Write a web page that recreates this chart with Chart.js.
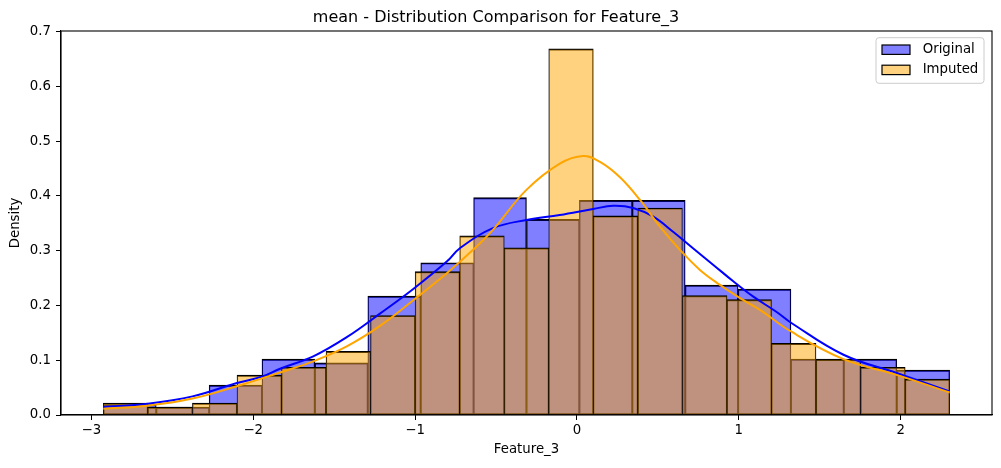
<!DOCTYPE html>
<html>
<head>
<meta charset="utf-8">
<script src="https://cdn.jsdelivr.net/npm/chart.js@4.4.1/dist/chart.umd.min.js"></script>
<style>
  html, body { margin: 0; padding: 0; background: #ffffff; }
  #wrap { width: 1001px; height: 468px; }
</style>
</head>
<body>
<div id="wrap"><canvas id="chart" width="1001" height="468"></canvas></div>
<script>
// ---------- data ----------
const seriesLabels = ['Original', 'Imputed'];

// histogram bin edges (Feature_3 units)
const originalEdges = [-2.926, -2.599, -2.272, -1.946, -1.619, -1.292, -0.965, -0.638, -0.312,
                       0.015, 0.342, 0.669, 0.996, 1.322, 1.649, 1.976, 2.303];
const originalDensity = [0.019, 0.0145, 0.0545, 0.102, 0.0953, 0.217, 0.278, 0.397, 0.357,
                         0.392, 0.392, 0.237, 0.230, 0.102, 0.102, 0.082];

const imputedEdges = [-2.926, -2.651, -2.376, -2.100, -1.825, -1.550, -1.275, -1.000, -0.724, -0.449,
                      -0.174, 0.101, 0.376, 0.652, 0.927, 1.202, 1.477, 1.753, 2.028, 2.303];
const imputedDensity = [0.0218, 0.0145, 0.0218, 0.0727, 0.0872, 0.1163, 0.1817, 0.2616, 0.3270, 0.3052,
                        0.6686, 0.3634, 0.3779, 0.2180, 0.2107, 0.1308, 0.1017, 0.0872, 0.0654];

// KDE curves
const originalKdeX = [-2.926, -2.653, -2.375, -2.106, -1.946, -1.834, -1.629, -1.422, -1.217, -1.011,
                      -0.804, -0.725, -0.519, -0.312, -0.106, 0.100, 0.225, 0.348, 0.472, 0.596,
                      0.719, 0.843, 0.966, 1.090, 1.234, 1.325, 1.647, 1.975, 2.303];
const originalKdeY = [0.0146, 0.0206, 0.034, 0.058, 0.070, 0.0845, 0.107, 0.142, 0.185, 0.230,
                      0.280, 0.304, 0.341, 0.356, 0.365, 0.376, 0.382, 0.378, 0.362, 0.334,
                      0.304, 0.274, 0.244, 0.216, 0.188, 0.168, 0.110, 0.0766, 0.043];
const imputedKdeX = [-2.926, -2.653, -2.375, -2.106, -1.834, -1.629, -1.422, -1.217, -1.011, -0.804,
                     -0.640, -0.519, -0.312, -0.106, 0.038, 0.143, 0.266, 0.390, 0.513, 0.637,
                     0.760, 0.884, 1.008, 1.131, 1.325, 1.647, 1.975, 2.303];
const imputedKdeY = [0.0115, 0.017, 0.030, 0.052, 0.0777, 0.0979, 0.1252, 0.1626, 0.2096, 0.2588,
                     0.302, 0.338, 0.411, 0.459, 0.473, 0.462, 0.434, 0.3925, 0.3438, 0.3013,
                     0.2649, 0.2375, 0.2132, 0.192, 0.152, 0.102, 0.0732, 0.0412];

const xTicks = [-3, -2, -1, 0, 1, 2];
const yTicks = [0.0, 0.1, 0.2, 0.3, 0.4, 0.5, 0.6, 0.7];
const xRange = [-3.1875, 2.5645];
const yRange = [0, 0.701];

const titleText = 'mean - Distribution Comparison for Feature_3';
const xLabel = 'Feature_3';
const yLabel = 'Density';

// ---------- build datasets ----------
function histPoints(edges, dens) {
  return dens.map((d, i) => ({ x: (edges[i] + edges[i + 1]) / 2, y: d }));
}
function curvePoints(xs, ys) { return xs.map((x, i) => ({ x: x, y: ys[i] })); }

const COLORS = {
  origFill: 'rgba(0,0,255,0.5)',
  impFill: 'rgba(255,165,0,0.5)',
  origLine: '#0000ff',
  impLine: '#ffa500'
};

const FONT = "'DejaVu Sans', 'Liberation Sans', sans-serif";
Chart.defaults.font.family = FONT;
Chart.defaults.color = '#000000';

const barBorder = { top: 1.3, left: 0.7, right: 0.7, bottom: 0.7 };

const framePlugin = {
  id: 'frame',
  afterDatasetsDraw(chart) {
    const a = chart.chartArea, ctx = chart.ctx;
    ctx.save();
    ctx.strokeStyle = '#000';
    ctx.lineWidth = 1.1;
    ctx.strokeRect(a.left, a.top, a.right - a.left, a.bottom - a.top);
    ctx.restore();
  }
};

const legendPlugin = {
  id: 'mplLegend',
  afterDraw(chart) {
    const a = chart.chartArea, ctx = chart.ctx;
    const items = [
      { label: seriesLabels[0], fill: COLORS.origFill },
      { label: seriesLabels[1], fill: COLORS.impFill }
    ];
    const w = 108, h = 45.6, r = 3;
    const x0 = a.right - 8 - w, y0 = a.top + 6.7;
    ctx.save();
    ctx.beginPath();
    ctx.moveTo(x0 + r, y0);
    ctx.lineTo(x0 + w - r, y0);
    ctx.arcTo(x0 + w, y0, x0 + w, y0 + r, r);
    ctx.lineTo(x0 + w, y0 + h - r);
    ctx.arcTo(x0 + w, y0 + h, x0 + w - r, y0 + h, r);
    ctx.lineTo(x0 + r, y0 + h);
    ctx.arcTo(x0, y0 + h, x0, y0 + h - r, r);
    ctx.lineTo(x0, y0 + r);
    ctx.arcTo(x0, y0, x0 + r, y0, r);
    ctx.closePath();
    ctx.fillStyle = 'rgba(255,255,255,0.8)';
    ctx.fill();
    ctx.strokeStyle = '#cccccc';
    ctx.lineWidth = 1;
    ctx.stroke();
    ctx.font = '13.3px ' + FONT;
    ctx.textBaseline = 'middle';
    ctx.textAlign = 'left';
    items.forEach((it, i) => {
      const cy = y0 + 12 + i * 20.2;
      const px = x0 + 6, pw = 28, ph = 9.4;
      ctx.fillStyle = '#ffffff';
      ctx.fillRect(px, cy - ph / 2, pw, ph);
      ctx.fillStyle = it.fill;
      ctx.fillRect(px, cy - ph / 2, pw, ph);
      ctx.strokeStyle = '#000';
      ctx.lineWidth = 1.2;
      ctx.strokeRect(px, cy - ph / 2, pw, ph);
      ctx.fillStyle = '#000';
      ctx.fillText(it.label, x0 + 46.7, cy);
    });
    ctx.restore();
  }
};

const fmtX = v => (v < 0 ? '\u2212' + Math.abs(v) : String(v));

const tickCommon = {
  color: '#000',
  font: { size: 13.3, family: FONT },
  autoSkip: false,
  maxRotation: 0,
  includeBounds: false
};
const gridCommon = {
  display: true,
  drawOnChartArea: false,
  drawTicks: true,
  tickLength: 5,
  color: '#000',
  lineWidth: 1,
  offset: false
};

new Chart(document.getElementById('chart'), {
  type: 'bar',
  data: {
    datasets: [
      {
        type: 'line', label: seriesLabels[1] + ' KDE',
        data: curvePoints(imputedKdeX, imputedKdeY),
        borderColor: COLORS.impLine, borderWidth: 2, pointRadius: 0, fill: false,
        tension: 0.4, xAxisID: 'x', yAxisID: 'y', order: 0
      },
      {
        type: 'line', label: seriesLabels[0] + ' KDE',
        data: curvePoints(originalKdeX, originalKdeY),
        borderColor: COLORS.origLine, borderWidth: 2, pointRadius: 0, fill: false,
        tension: 0.4, xAxisID: 'x', yAxisID: 'y', order: 1
      },
      {
        type: 'bar', label: seriesLabels[1],
        data: histPoints(imputedEdges, imputedDensity),
        backgroundColor: COLORS.impFill, borderColor: '#000', borderWidth: barBorder,
        borderSkipped: false, grouped: false, categoryPercentage: 1, barPercentage: 1,
        xAxisID: 'x2', yAxisID: 'y', order: 2
      },
      {
        type: 'bar', label: seriesLabels[0],
        data: histPoints(originalEdges, originalDensity),
        backgroundColor: COLORS.origFill, borderColor: '#000', borderWidth: barBorder,
        borderSkipped: false, grouped: false, categoryPercentage: 1, barPercentage: 1,
        xAxisID: 'x', yAxisID: 'y', order: 3
      }
    ]
  },
  options: {
    responsive: false,
    animation: false,
    devicePixelRatio: 1,
    events: [],
    layout: { padding: { left: 0, right: 9, top: 0, bottom: 0 } },
    plugins: {
      legend: { display: false },
      tooltip: { enabled: false },
      title: {
        display: true, text: titleText, color: '#000',
        font: { size: 16, weight: 'normal', family: FONT },
        padding: { top: 7.9, bottom: 3.9 }
      }
    },
    scales: {
      x: {
        type: 'linear', position: 'bottom', min: xRange[0], max: xRange[1], offset: false,
        afterBuildTicks: s => { s.ticks = xTicks.map(v => ({ value: v })); },
        afterFit: s => { s.height = 53; },
        ticks: Object.assign({}, tickCommon, { padding: 2.5, callback: v => fmtX(v) }),
        grid: gridCommon,
        border: { display: true, color: '#000', width: 1.1 },
        title: { display: true, text: xLabel, color: '#000', font: { size: 13.3, family: FONT }, padding: { top: 0, bottom: 10 } }
      },
      x2: {
        type: 'linear', position: 'bottom', display: false, min: xRange[0], max: xRange[1], offset: false,
        grid: { offset: false },
        afterBuildTicks: s => { s.ticks = xTicks.map(v => ({ value: v })); }
      },
      y: {
        type: 'linear', position: 'left', min: yRange[0], max: yRange[1],
        afterBuildTicks: s => { s.ticks = yTicks.map(v => ({ value: v })); },
        afterFit: s => { s.width = 61; },
        ticks: Object.assign({}, tickCommon, { padding: 5, callback: v => Number(v).toFixed(1) }),
        grid: gridCommon,
        border: { display: true, color: '#000', width: 1.1 },
        title: { display: true, text: yLabel, color: '#000', font: { size: 13.3, family: FONT }, padding: { top: 8, bottom: 0 } }
      }
    }
  },
  plugins: [framePlugin, legendPlugin]
});
</script>
</body>
</html>
